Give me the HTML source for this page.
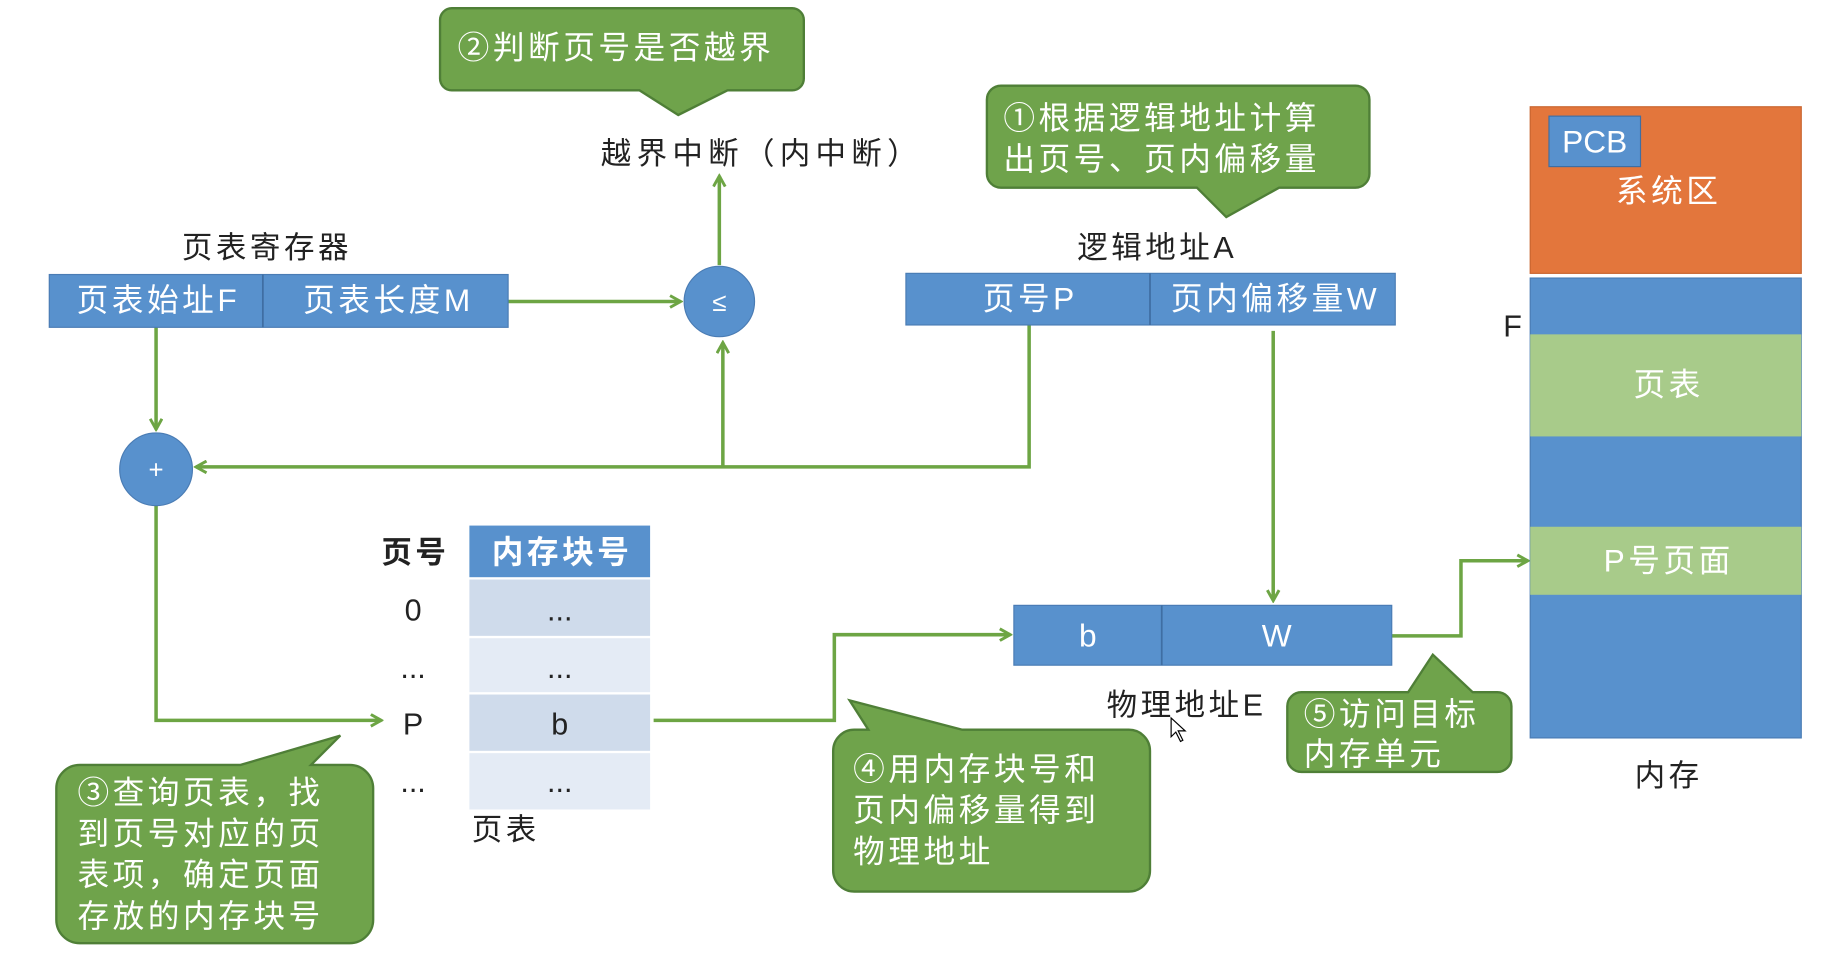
<!DOCTYPE html>
<html><head><meta charset="utf-8"><style>
html,body{margin:0;padding:0;background:#fff;overflow:hidden}
svg{display:block}
text{font-family:"Liberation Sans","Noto Sans CJK SC",sans-serif;letter-spacing:3px}
.w{fill:#fff;font-size:27px}
.k{fill:#222;font-size:26px}
.c{letter-spacing:3.5px}
text.n{letter-spacing:0}
</style></head><body>
<svg width="1840" height="962" viewBox="0 0 1568 820" preserveAspectRatio="none" xmlns="http://www.w3.org/2000/svg">
<defs>
<marker id="a" markerWidth="12" markerHeight="12" refX="10" refY="6" orient="auto" markerUnits="userSpaceOnUse"><path d="M1,1 L10,6 L1,11" fill="none" stroke="#6da544" stroke-width="2.5"/></marker>
</defs>
<g fill="none" stroke="#6da544" stroke-width="3">
<path d="M433,257 H580" marker-end="url(#a)"/>
<path d="M613,226 V150" marker-end="url(#a)"/>
<path d="M877,277 V398 H167" marker-end="url(#a)"/>
<path d="M616,398 V292" marker-end="url(#a)"/>
<path d="M133,279 V366" marker-end="url(#a)"/>
<path d="M133,431 V614 H325" marker-end="url(#a)"/>
<path d="M557,614 H711 V541 H861" marker-end="url(#a)"/>
<path d="M1085,282 V512" marker-end="url(#a)"/>
<path d="M1186,542 H1245 V478 H1302" marker-end="url(#a)"/>
</g>
<g fill="#6fa34b" stroke="#4f7f37" stroke-width="2">
<path d="M385,7 H675 a10,10 0 0 1 10,10 V67 a10,10 0 0 1 -10,10 H620 L578,98 L545,77 H385 a10,10 0 0 1 -10,-10 V17 a10,10 0 0 1 10,-10Z"/>
<path d="M853,73 H1155 a12,12 0 0 1 12,12 V148 a12,12 0 0 1 -12,12 H1090 L1045,185 L1020,160 H853 a12,12 0 0 1 -12,-12 V85 a12,12 0 0 1 12,-12Z"/>
<path d="M68,652 H205 L290,627 L265,652 H298 a20,20 0 0 1 20,20 V784 a20,20 0 0 1 -20,20 H68 a20,20 0 0 1 -20,-20 V672 a20,20 0 0 1 20,-20Z"/>
<path d="M728,622 H740 L724,597 L820,622 H962 a18,18 0 0 1 18,18 V742 a18,18 0 0 1 -18,18 H728 a18,18 0 0 1 -18,-18 V640 a18,18 0 0 1 18,-18Z"/>
<path d="M1109,590 H1200 L1221,558 L1255,590 H1276 a12,12 0 0 1 12,12 V646 a12,12 0 0 1 -12,12 H1109 a12,12 0 0 1 -12,-12 V602 a12,12 0 0 1 12,-12Z"/>
</g>
<g class="c">
<text class="w" x="390" y="50">②判断页号是否越界</text>
<text class="w" x="855" y="110">①根据逻辑地址计算</text>
<text class="w" x="855" y="145">出页号、页内偏移量</text>
<text class="w" x="66" y="685">③查询页表，找</text>
<text class="w" x="66" y="720">到页号对应的页</text>
<text class="w" x="66" y="755">表项，确定页面</text>
<text class="w" x="66" y="790">存放的内存块号</text>
<text class="w" x="727" y="665">④用内存块号和</text>
<text class="w" x="727" y="700">页内偏移量得到</text>
<text class="w" x="727" y="735">物理地址</text>
<text class="w" x="1111" y="618">⑤访问目标</text>
<text class="w" x="1111" y="652">内存单元</text>
</g>
<text class="k" x="512" y="140" style="letter-spacing:4.5px">越界中断（内中断）</text>
<text class="k" x="155" y="220">页表寄存器</text>
<text class="k" x="918" y="220">逻辑地址A</text>
<g fill="#5891cd" stroke="#4a7cb4" stroke-width="1">
<rect x="42" y="234" width="391" height="45"/>
<rect x="772" y="233" width="417" height="44"/>
<rect x="864" y="516" width="322" height="51"/>
<circle cx="613" cy="257" r="30"/>
<circle cx="133" cy="400" r="31"/>
</g>
<g stroke="#3f6ea3" stroke-width="1.5"><path d="M224,234V279M980,233V277M990,516V567"/></g>
<g class="w" text-anchor="middle">
<text x="135" y="265">页表始址F</text><text x="331" y="265">页表长度M</text>
<text x="878" y="264">页号P</text><text x="1087" y="264">页内偏移量W</text>
<text class="n" x="927" y="551">b</text><text class="n" x="1088" y="551">W</text>
<text class="n" x="613" y="265" font-size="22">≤</text><text class="n" x="133" y="408" font-size="22">+</text>
</g>
<rect x="400" y="448" width="154" height="44" fill="#5891cd"/>
<rect x="400" y="494" width="154" height="48" fill="#cfdbeb"/>
<rect x="400" y="544" width="154" height="46" fill="#e4ebf5"/>
<rect x="400" y="592" width="154" height="48" fill="#cfdbeb"/>
<rect x="400" y="642" width="154" height="48" fill="#e4ebf5"/>
<text class="w" x="479" y="480" text-anchor="middle" font-weight="bold">内存块号</text>
<g class="k" text-anchor="middle">
<text x="354" y="480" font-weight="bold">页号</text>
<text class="n" x="352" y="529">0</text><text class="n" x="352" y="578">...</text><text class="n" x="352" y="626">P</text><text class="n" x="352" y="675">...</text>
<text class="n" x="477" y="529">...</text><text class="n" x="477" y="578">...</text><text class="n" x="477" y="626">b</text><text class="n" x="477" y="675">...</text>
</g>
<text class="k" x="402" y="716">页表</text>
<text class="k" x="943" y="610">物理地址E</text>
<path d="M998,612 L998,628 L1002,624 L1006,632 L1008,631 L1004,623 L1010,623Z" fill="#fff" stroke="#000" stroke-width="1"/>
<rect x="1304" y="91" width="231" height="142" fill="#e3763c" stroke="#c9652f"/>
<rect x="1304" y="237" width="231" height="392" fill="#5891cd" stroke="#4a7cb4"/>
<rect x="1304" y="285" width="231" height="87" fill="#a8cb8a"/>
<rect x="1304" y="449" width="231" height="58" fill="#a8cb8a"/>
<rect x="1320" y="99" width="78" height="43" fill="#5891cd" stroke="#3f6ea3"/>
<text class="w n" x="1359" y="130" text-anchor="middle" font-size="24">PCB</text>
<g class="w" text-anchor="middle">
<text x="1422" y="172">系统区</text><text x="1422" y="337">页表</text><text x="1422" y="487">P号页面</text>
</g>
<text class="k" x="1281" y="287" font-size="24">F</text>
<text class="k" x="1422" y="670" text-anchor="middle">内存</text>
</svg>
</body></html>
